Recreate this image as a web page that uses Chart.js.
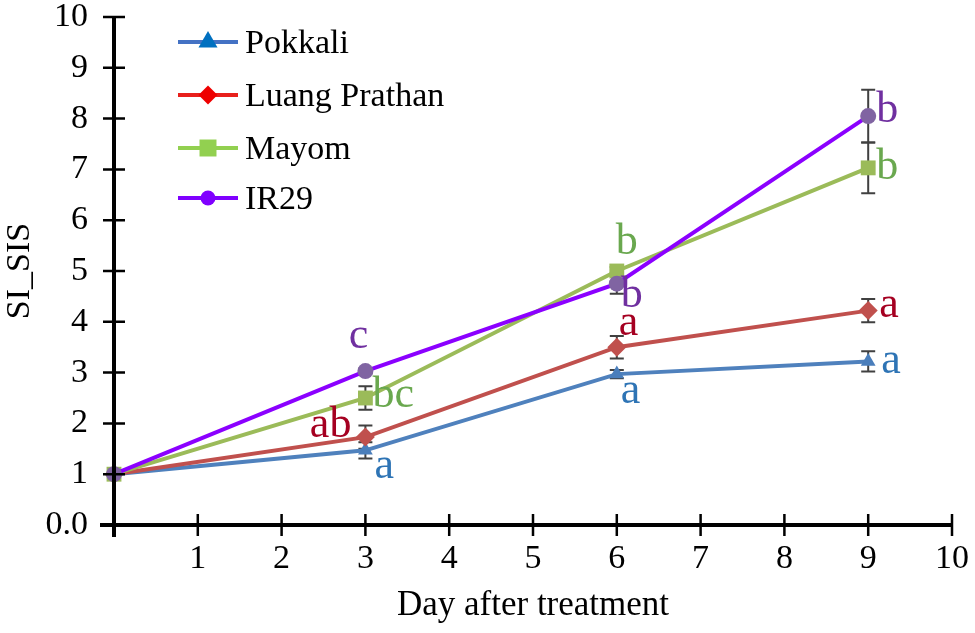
<!DOCTYPE html>
<html lang="en">
<head>
    <meta charset="UTF-8">
    <title>SI_SIS</title>
    <script src="https://cdn.jsdelivr.net/npm/chart.js"></script>
    <style>
        body { margin: 0; background: #fff; font-family: 'Liberation Serif', serif; }
        #wrap { width: 975px; height: 633px; }
        #probe { position: absolute; left: -999px; top: 0; font-family: 'Liberation Serif'; font-size: 34px; }
    </style>
</head>
<body>
    <div id="probe">Day after treatment</div>
    <div id="wrap"><canvas id="grafico" width="975" height="633"></canvas></div>

    <script>
        // data
        var days = [0, 3, 6, 9];
        var seriesNames = ['Pokkali', 'Luang Prathan', 'Mayom', 'IR29'];
        var pokkali = [1, 1.47, 2.97, 3.22];
        var luangPrathan = [1, 1.73, 3.5, 4.22];
        var mayom = [1, 2.5, 5.0, 7.03];
        var ir29 = [1, 3.03, 4.75, 8.05];
        var errPokkali = [0, 0.16, 0.08, 0.2];
        var errLuang = [0, 0.23, 0.22, 0.23];
        var errMayom = [0, 0.23, 0.08, 0.5];
        var errIr29 = [0, 0.05, 0.2, 0.52];
        var lettersPokkali = ['', 'a', 'a', 'a'];
        var lettersLuang = ['', 'ab', 'a', 'a'];
        var lettersMayom = ['', 'bc', 'b', 'b'];
        var lettersIr29 = ['', 'c', 'b', 'b'];
        var yTicks = [0, 1, 2, 3, 4, 5, 6, 7, 8, 9, 10];

        var serif = "'Liberation Serif', 'DejaVu Serif', serif";

        var series = [
            { label: seriesNames[0], data: pokkali, err: errPokkali, letters: lettersPokkali,
              line: '#4f81bd', point: '#4a7ebb', legendLine: '#4472c4', legendPoint: '#0070c0', text: '#2e74b5', style: 'triangle',
              offs: [null, [9, 28, 'left'], [4, 29, 'left'], [13, 12, 'left']] },
            { label: seriesNames[1], data: luangPrathan, err: errLuang, letters: lettersLuang,
              line: '#c0504d', point: '#c0504d', legendLine: '#e8201c', legendPoint: '#ee0000', text: '#a50021', style: 'rectRot',
              offs: [null, [-14, 0, 'right'], [2, -12, 'left'], [11, 6, 'left']] },
            { label: seriesNames[2], data: mayom, err: errMayom, letters: lettersMayom,
              line: '#9bbb59', point: '#9bbb59', legendLine: '#92d050', legendPoint: '#92d050', text: '#6aa84f', style: 'rect',
              offs: [null, [7, 9, 'left'], [-1, -17, 'left'], [8, 11, 'left']] },
            { label: seriesNames[3], data: ir29, err: errIr29, letters: lettersIr29,
              line: '#8b00ff', point: '#8064a2', legendLine: '#7f00ff', legendPoint: '#8000ff', text: '#7030a0', style: 'circle',
              offs: [null, [-7, -23, 'center'], [4, 23, 'left'], [8, 6, 'left']] }
        ];

        var pointSize = { triangle: 8.5, rectRot: 9.5, rect: 10.5, circle: 8 };
        var legendSize = { triangle: 11, rectRot: 9.5, rect: 12, circle: 7.5 };

        var datasets = series.map(function (s, i) {
            return {
                label: s.label,
                data: days.map(function (d, k) { return { x: d, y: s.data[k] }; }),
                borderColor: s.line,
                borderWidth: 4,
                pointStyle: s.style,
                pointRadius: pointSize[s.style],
                pointBackgroundColor: s.point,
                pointBorderColor: s.point,
                pointBorderWidth: 0,
                tension: 0,
                clip: false,
                order: 3 - i
            };
        });

        // error bars under the markers
        var errorBars = {
            id: 'errorBars',
            beforeDatasetsDraw: function (chart) {
                var ctx = chart.ctx, x = chart.scales.x, y = chart.scales.y;
                ctx.save();
                ctx.strokeStyle = '#404040';
                ctx.lineWidth = 2;
                series.forEach(function (s) {
                    s.data.forEach(function (v, k) {
                        if (!s.err[k]) return;
                        var px = x.getPixelForValue(days[k]);
                        var top = y.getPixelForValue(v + s.err[k]);
                        var bot = y.getPixelForValue(v - s.err[k]);
                        ctx.beginPath();
                        ctx.moveTo(px, top); ctx.lineTo(px, bot);
                        ctx.moveTo(px - 7, top); ctx.lineTo(px + 7, top);
                        ctx.moveTo(px - 7, bot); ctx.lineTo(px + 7, bot);
                        ctx.stroke();
                    });
                });
                ctx.restore();
            }
        };

        // axes with ticks crossing the line, legend and letters
        var decor = {
            id: 'decor',
            afterDraw: function (chart) {
                var ctx = chart.ctx, x = chart.scales.x, y = chart.scales.y;
                var x0 = x.getPixelForValue(0), y0 = y.getPixelForValue(0);
                ctx.save();
                ctx.strokeStyle = '#000';
                ctx.lineWidth = 4;
                ctx.beginPath();
                ctx.moveTo(x0 - 14, y0); ctx.lineTo(x.getPixelForValue(10), y0);
                ctx.moveTo(x0, y0 + 12); ctx.lineTo(x0, y.getPixelForValue(10));
                ctx.stroke();
                ctx.lineWidth = 2.5;
                ctx.beginPath();
                for (var t = 1; t <= 10; t++) {
                    var tx = x.getPixelForValue(t);
                    ctx.moveTo(tx, y0 - 11); ctx.lineTo(tx, y0 + 11);
                }
                yTicks.forEach(function (v) {
                    if (v === 0) return;
                    var ty = y.getPixelForValue(v);
                    ctx.moveTo(x0 - 11, ty); ctx.lineTo(x0 + 11, ty);
                });
                ctx.stroke();

                // legend
                ctx.font = '34px ' + serif;
                ctx.textBaseline = 'middle';
                ctx.textAlign = 'left';
                var rows = [42, 95, 148, 198];
                series.forEach(function (s, i) {
                    var ly = rows[i];
                    ctx.strokeStyle = s.legendLine;
                    ctx.lineWidth = 4;
                    ctx.beginPath();
                    ctx.moveTo(178, ly); ctx.lineTo(238, ly);
                    ctx.stroke();
                    ctx.fillStyle = s.legendPoint;
                    ctx.strokeStyle = s.legendPoint;
                    Chart.helpers.drawPoint(ctx, {
                        pointStyle: s.style, radius: legendSize[s.style], borderWidth: 0, rotation: 0
                    }, 208, ly);
                    ctx.fillStyle = '#000';
                    ctx.fillText(s.label, 245, ly + 2);
                });

                // significance letters
                ctx.font = '44px ' + serif;
                ctx.textBaseline = 'alphabetic';
                series.forEach(function (s) {
                    ctx.fillStyle = s.text;
                    s.letters.forEach(function (l, k) {
                        if (!l) return;
                        var o = s.offs[k];
                        ctx.textAlign = o[2];
                        ctx.fillText(l, x.getPixelForValue(days[k]) + o[0], y.getPixelForValue(s.data[k]) + o[1]);
                    });
                });
                ctx.restore();
            }
        };

        function desenhar() {
            var ctx = document.getElementById('grafico').getContext('2d');
            new Chart(ctx, {
                type: 'line',
                data: { datasets: datasets },
                options: {
                    responsive: false,
                    animation: false,
                    devicePixelRatio: 1,
                    layout: { padding: { top: 17, right: 23, left: 0, bottom: 0 } },
                    plugins: { legend: { display: false }, tooltip: { enabled: false } },
                    scales: {
                        x: {
                            type: 'linear', min: 0, max: 10,
                            grid: { display: false, drawTicks: false },
                            border: { display: false },
                            ticks: {
                                stepSize: 1, padding: 14, color: '#000',
                                font: { family: serif, size: 34 },
                                callback: function (v) { return v === 0 ? '' : v; }
                            },
                            title: {
                                display: true, text: 'Day after treatment', color: '#000',
                                font: { family: serif, size: 35 }, padding: { top: 0, bottom: 6 }
                            },
                            afterFit: function (s) {
                                s.height = 108;
                                s.paddingLeft = 0; s.paddingRight = 0;
                            }
                        },
                        y: {
                            type: 'linear', min: 0, max: 10,
                            grid: { display: false, drawTicks: false },
                            border: { display: false },
                            afterBuildTicks: function (s) { s.ticks = yTicks.map(function (v) { return { value: v }; }); },
                            ticks: {
                                padding: 26, color: '#000',
                                font: { family: serif, size: 34 },
                                callback: function (v) { return v === 0 ? '0.0' : v; }
                            },
                            title: {
                                display: true, text: 'SI_SIS', color: '#000',
                                font: { family: serif, size: 34 }, padding: { top: 0, bottom: 0 }
                            },
                            afterFit: function (s) {
                                s.width = 114;
                                s.paddingTop = 0; s.paddingBottom = 0;
                            }
                        }
                    }
                },
                plugins: [errorBars, decor]
            });
        }

        if (document.fonts && document.fonts.load) {
            document.fonts.load("34px 'Liberation Serif'").then(desenhar, desenhar);
        } else {
            desenhar();
        }
    </script>
</body>
</html>
